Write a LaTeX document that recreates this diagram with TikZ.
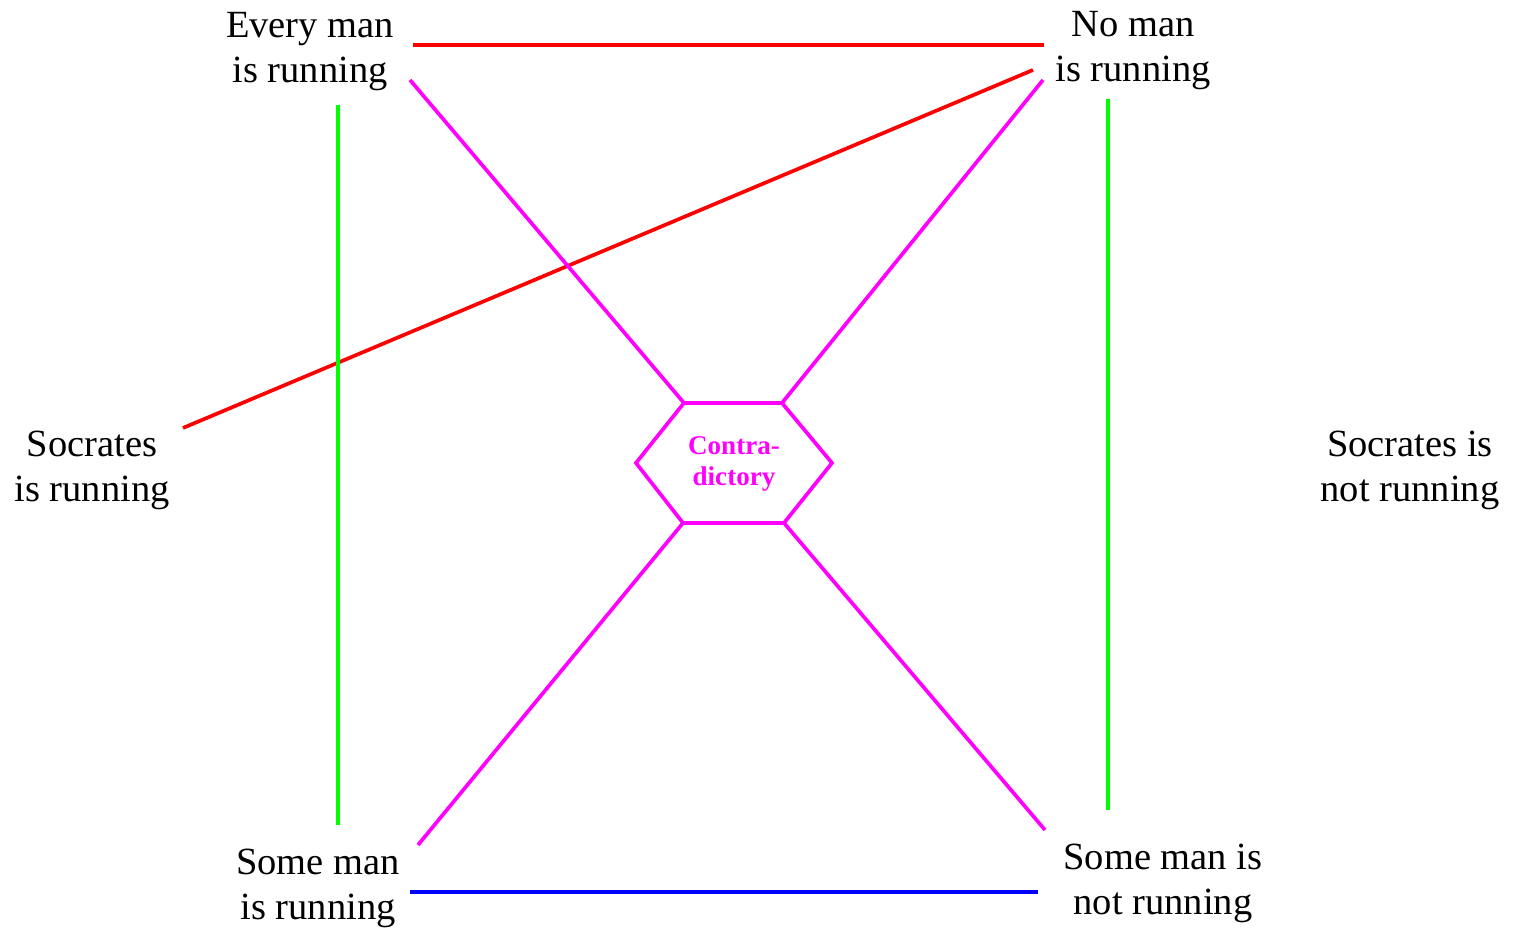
\documentclass[tikz,border=0pt]{standalone}
\usepackage{fontspec}
\setmainfont{Liberation Serif}
\usepackage{tikz}
\usetikzlibrary{positioning}
\definecolor{contrary}{HTML}{FF0000}
\definecolor{subaltern}{HTML}{00FF00}
\definecolor{subcontrary}{HTML}{0000FF}
\definecolor{contradict}{HTML}{FF00FF}
\tikzset{
  proplabel/.style={
    align=center, inner sep=0pt, text=black,
    font=\fontsize{10.95}{12.8}\selectfont},
  hexlabel/.style={
    align=center, inner sep=0pt, text=contradict,
    font=\fontsize{7.7}{8.6}\selectfont\bfseries},
  relline/.style={line width=1.05pt},
  contraryline/.style={relline, color=contrary},
  subalternline/.style={relline, color=subaltern},
  subcontraryline/.style={relline, color=subcontrary},
  contraline/.style={relline, color=contradict, line join=miter},
}

\begin{document}
\begin{tikzpicture}
  \useasboundingbox (0,0) rectangle (15.14,9.28);
  \node[proplabel] (every)    at (3.10,8.765) {Every man\\is running};
  \node[proplabel] (noman)    at (11.33,8.775) {No man\\is running};
  \node[proplabel] (socr)     at (0.92,4.575) {Socrates\\is running};
  \node[proplabel] (socrnot)  at (14.10,4.575) {Socrates is\\not running};
  \node[proplabel] (some)     at (3.18,0.395) {Some man\\is running};
  \node[proplabel] (somenot)  at (11.63,0.445) {Some man is\\not running};
  \node[hexlabel]  (contra)   at (7.34,4.64)  {Contra-\\dictory};

  \coordinate (hextl) at ([shift={(-0.50,0.61)}]contra.center);
  \coordinate (hextr) at ([shift={(0.48,0.61)}]contra.center);
  \coordinate (hexr)  at ([shift={(0.98,0.01)}]contra.center);
  \coordinate (hexbr) at ([shift={(0.50,-0.59)}]contra.center);
  \coordinate (hexbl) at ([shift={(-0.51,-0.59)}]contra.center);
  \coordinate (hexl)  at ([shift={(-0.98,0.01)}]contra.center);
  \draw[contraline] (hextl) -- (hextr) -- (hexr) -- (hexbr) -- (hexbl) -- (hexl) -- cycle;

  \coordinate (every-r)   at (4.13,8.83);
  \coordinate (every-d)   at (4.10,8.48);
  \coordinate (every-s)   at (3.38,8.23);
  \coordinate (noman-l)   at (10.44,8.83);
  \coordinate (noman-dl)  at (10.33,8.58);
  \coordinate (noman-d)   at (10.43,8.48);
  \coordinate (noman-s)   at (11.08,8.29);
  \coordinate (socr-r)    at (1.83,5.00);
  \coordinate (some-n)    at (3.38,1.03);
  \coordinate (some-u)    at (4.18,0.83);
  \coordinate (some-r)    at (4.10,0.36);
  \coordinate (somenot-n) at (11.08,1.18);
  \coordinate (somenot-u) at (10.45,0.98);
  \coordinate (somenot-l) at (10.38,0.36);

  \draw[contraryline] (every-r) -- (noman-l);
  \draw[contraryline] (socr-r) -- (noman-dl);
  \draw[subalternline] (every-s) -- (some-n);
  \draw[subalternline] (noman-s) -- (somenot-n);
  \draw[subcontraryline] (some-r) -- (somenot-l);
  \draw[contraline] (every-d) -- (hextl);
  \draw[contraline] (noman-d) -- (hextr);
  \draw[contraline] (hexbl) -- (some-u);
  \draw[contraline] (hexbr) -- (somenot-u);
\end{tikzpicture}
\end{document}
